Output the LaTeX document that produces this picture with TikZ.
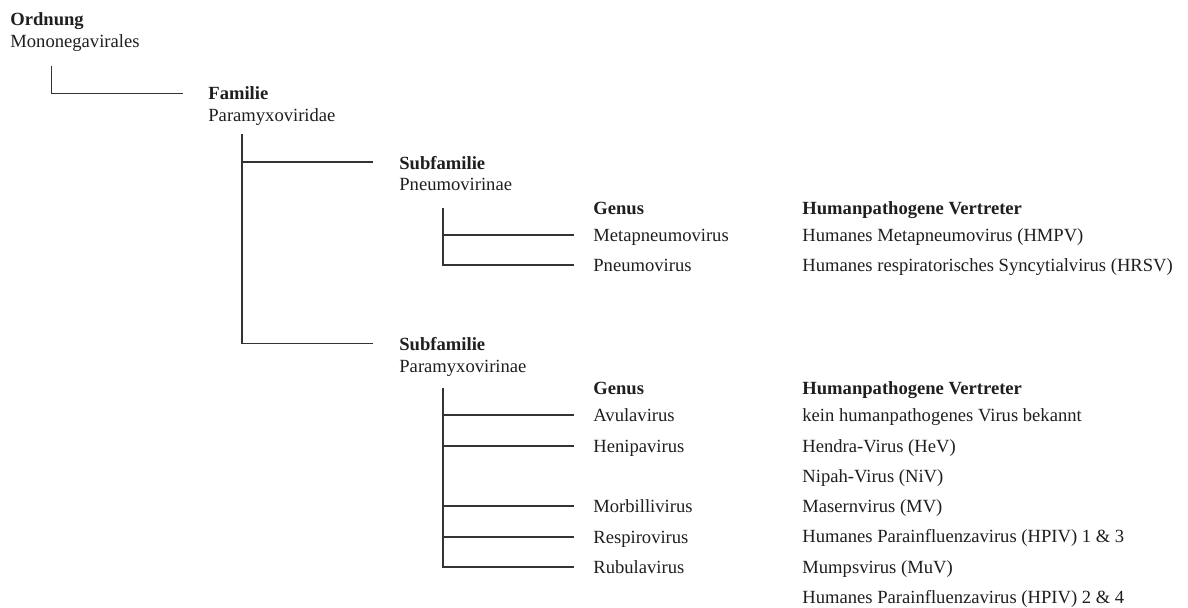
\documentclass[tikz,border=0pt]{standalone}
\usepackage{fontspec}
\setmainfont{Liberation Serif}
\begin{document}
\begin{tikzpicture}[x=0.5pt,y=-0.5pt,
  lbl/.style={anchor=base west,inner sep=0pt,text=black!88,font=\fontsize{9.3}{11}\selectfont},
  hdr/.style={lbl,font=\fontsize{9.3}{11}\selectfont\bfseries},
  tree/.style={draw=black!80,line width=0.65pt}]
\useasboundingbox[fill=white] (0,0) rectangle (1188,607);
% Ordnung
\node[hdr] (ordH) at (10,25) {Ordnung};
\node[lbl] (ordN) at (10,47) {Mononegavirales};
% Familie
\node[hdr] (famH) at (208,99) {Familie};
\node[lbl] (famN) at (208,121) {Paramyxoviridae};
% Subfamilie 1
\node[hdr] (sf1H) at (399,169) {Subfamilie};
\node[lbl] (sf1N) at (399,190) {Pneumovirinae};
% Subfamilie 2
\node[hdr] (sf2H) at (399,350) {Subfamilie};
\node[lbl] (sf2N) at (399,372) {Paramyxovirinae};
% Genus block 1
\node[hdr] (g1H) at (593,214) {Genus};
\node[lbl] (g1a) at (593,241.5) {Metapneumovirus};
\node[lbl] (g1b) at (593,271) {Pneumovirus};
\node[hdr] (v1H) at (802,214) {Humanpathogene Vertreter};
\node[lbl] (v1a) at (802,241.5) {Humanes Metapneumovirus (HMPV)};
\node[lbl] (v1b) at (802,271) {Humanes respiratorisches Syncytialvirus (HRSV)};
% Genus block 2
\node[hdr] (g2H) at (593,394) {Genus};
\node[lbl] (g2a) at (593,421) {Avulavirus};
\node[lbl] (g2b) at (593,452) {Henipavirus};
\node[lbl] (g2c) at (593,512) {Morbillivirus};
\node[lbl] (g2d) at (593,543) {Respirovirus};
\node[lbl] (g2e) at (593,573) {Rubulavirus};
\node[hdr] (v2H) at (802,394) {Humanpathogene Vertreter};
\node[lbl] (v2a) at (802,421) {kein humanpathogenes Virus bekannt};
\node[lbl] (v2b) at (802,452) {Hendra-Virus (HeV)};
\node[lbl] (v2c) at (802,482) {Nipah-Virus (NiV)};
\node[lbl] (v2d) at (802,512) {Masernvirus (MV)};
\node[lbl] (v2e) at (802,542) {Humanes Parainfluenzavirus (HPIV) 1 \& 3};
\node[lbl] (v2f) at (802,573) {Mumpsvirus (MuV)};
\node[lbl] (v2g) at (802,603) {Humanes Parainfluenzavirus (HPIV) 2 \& 4};
% tree coordinates
\coordinate (oTop) at (51.7,65.7);
\coordinate (oEnd) at (183,93.3);
\coordinate (fTop) at (242,134);
\coordinate (fEnd1) at (373,162);
\coordinate (fEnd2) at (373,343.3);
\coordinate (s1Top) at (443,207.5);
\coordinate (s1a) at (574,235);
\coordinate (s1b) at (574,265);
\coordinate (s2Top) at (443,387.5);
\coordinate (s2a) at (574,415);
\coordinate (s2b) at (574,446);
\coordinate (s2c) at (574,506);
\coordinate (s2d) at (574,537);
\coordinate (s2e) at (574,567);
% connectors
\draw[tree] (oTop) |- (oEnd);
\draw[tree] (fTop) |- (fEnd2);
\draw[tree] (fTop |- fEnd1) -- (fEnd1);
\draw[tree] (s1Top) |- (s1b);
\draw[tree] (s1Top |- s1a) -- (s1a);
\draw[tree] (s2Top) |- (s2e);
\draw[tree] (s2Top |- s2a) -- (s2a);
\draw[tree] (s2Top |- s2b) -- (s2b);
\draw[tree] (s2Top |- s2c) -- (s2c);
\draw[tree] (s2Top |- s2d) -- (s2d);
\end{tikzpicture}
\end{document}
